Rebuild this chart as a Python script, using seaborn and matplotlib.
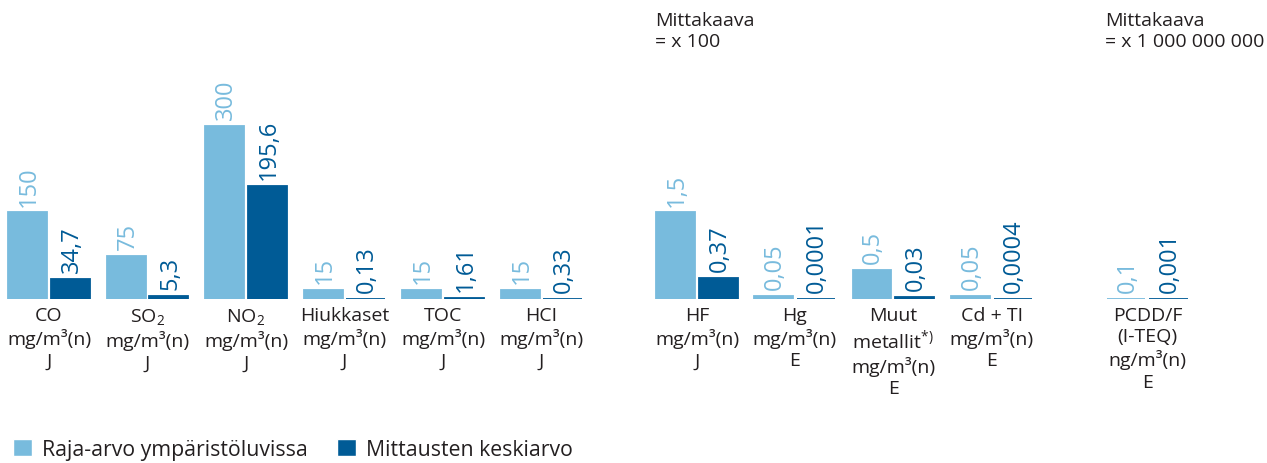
import numpy as np
import pandas as pd
import matplotlib.pyplot as plt
import seaborn as sns

sns.set_style("white")
plt.rcParams['font.family'] = ['Open Sans', 'DejaVu Sans']
plt.rcParams['mathtext.fontset'] = 'custom'
plt.rcParams['mathtext.rm'] = 'Open Sans'
plt.rcParams['mathtext.it'] = 'Open Sans'

# data
categories = ["CO\nmg/m³(n)\nJ", "SO$_2$\nmg/m³(n)\nJ", "NO$_2$\nmg/m³(n)\nJ",
              "Hiukkaset\nmg/m³(n)\nJ", "TOC\nmg/m³(n)\nJ", "HCI\nmg/m³(n)\nJ",
              "HF\nmg/m³(n)\nJ", "Hg\nmg/m³(n)\nE", "Muut\nmetallit$^{*)}$\nmg/m³(n)\nE",
              "Cd + TI\nmg/m³(n)\nE", "PCDD/F\n(I-TEQ)\nng/m³(n)\nE"]
positions = [0, 1, 2, 3, 4, 5, 6.58, 7.57, 8.57, 9.57, 11.15]
plot_scale = [1, 1, 1, 1, 1, 1, 100, 100, 100, 100, 1]
raja = [150, 75, 300, 15, 15, 15, 1.5, 0.05, 0.5, 0.05, 0.1]
keski = [34.7, 5.3, 195.6, 0.13, 1.61, 0.33, 0.37, 0.0001, 0.03, 0.0004, 0.001]
raja_txt = ["150", "75", "300", "15", "15", "15", "1,5", "0,05", "0,5", "0,05", "0,1"]
keski_txt = ["34,7", "5,3", "195,6", "0,13", "1,61", "0,33", "0,37", "0,0001", "0,03", "0,0004", "0,001"]
series = ["Raja-arvo ympäristöluvissa", "Mittausten keskiarvo"]

light = "#78bbdd"
dark = "#005b96"
txt_col = "#231f20"

n = len(categories)
df = pd.DataFrame({
    "pos": positions * 2,
    "sarja": [series[0]] * n + [series[1]] * n,
    "arvo": list(np.array(raja) * plot_scale) + list(np.array(keski) * plot_scale),
})

fig, ax = plt.subplots(figsize=(12.67, 4.64), dpi=100)
ax.set_position([0, 164 / 464, 1, 300 / 464])

sns.barplot(data=df, x="pos", y="arvo", hue="sarja", hue_order=series,
            native_scale=True, palette=[light, dark], saturation=1,
            width=0.873, gap=0.09, ax=ax)

# value labels + thin base line for tiny bars
for cont, texts, col in zip(ax.containers, [raja_txt, keski_txt], [light, dark]):
    for b, t in zip(cont, texts):
        b.set_edgecolor(col)
        b.set_linewidth(1.3)
        ax.annotate(t, (b.get_x() + b.get_width() / 2, b.get_height()),
                    xytext=(1, 5), textcoords="offset points", rotation=90,
                    ha="center", va="bottom", color=col, fontsize=17)

ax.set_ylim(0, 520)
ax.set_xlim(-0.497, 12.365)
ax.set_xticks(positions)
ax.set_xticklabels(categories, fontsize=14, color=txt_col, linespacing=1.25)
ax.tick_params(axis="x", length=0, pad=5)
ax.set_yticks([])
ax.set_xlabel("")
ax.set_ylabel("")
sns.despine(ax=ax, left=True, bottom=True)

handles, labels = ax.get_legend_handles_labels()
ax.legend(handles, labels, loc="lower left", bbox_to_anchor=(13 / 1267, 3 / 464),
          bbox_transform=fig.transFigure, ncol=2, frameon=False, fontsize=15.3,
          handlelength=0.9, handleheight=0.85, handletextpad=0.47,
          columnspacing=1.36, labelcolor=txt_col, borderpad=0, borderaxespad=0)

fig.text(655 / 1267, 1 - 12 / 464, "Mittakaava\n= x 100", ha="left", va="top",
         fontsize=14, color=txt_col, linespacing=1.2)
fig.text(1105 / 1267, 1 - 12 / 464, "Mittakaava\n= x 1 000 000 000", ha="left", va="top",
         fontsize=14, color=txt_col, linespacing=1.2)

plt.savefig("out.png", dpi=100)
